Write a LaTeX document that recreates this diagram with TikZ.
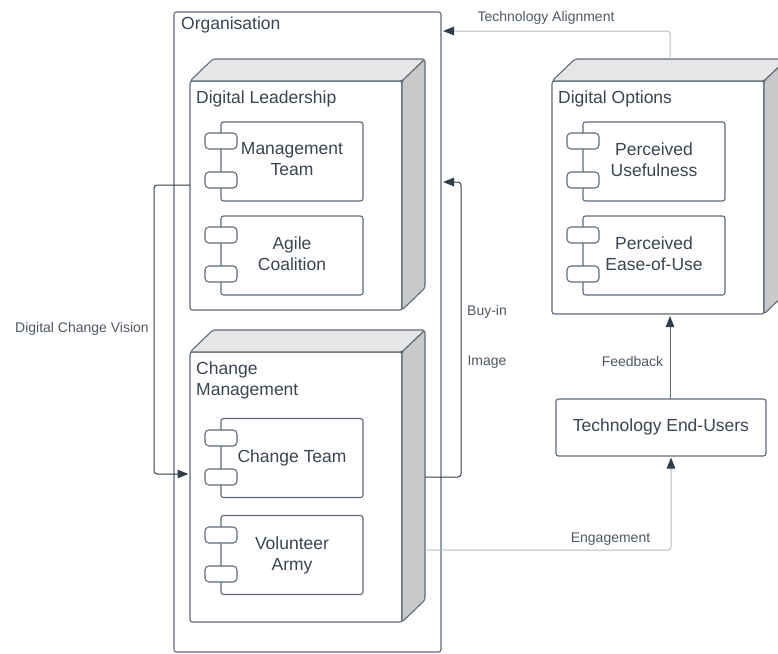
\documentclass[tikz,border=0pt]{standalone}
\usepackage{fontspec}
\setmainfont{Liberation Sans}
\usetikzlibrary{arrows.meta,calc}
\definecolor{inkline}{HTML}{5E6B78}
\definecolor{inktext}{HTML}{3A4552}
\definecolor{inktip}{HTML}{2F3E4C}
\definecolor{paleline}{HTML}{B4BCC4}
\definecolor{cubetop}{HTML}{E6E6E6}
\definecolor{cubeside}{HTML}{C9C9C9}
\newcommand{\cubefaces}[1]{
\filldraw[edge, fill=cubetop] (#1.north west)--++(23,-22)--($(#1.north east)+(23,-22)$)--(#1.north east)--cycle;
\filldraw[edge, fill=cubeside] (#1.north east)--++(23,-22)--($(#1.south east)+(23,-22)$)--(#1.south east)--cycle;
}
\tikzset{
edge/.style={draw=inkline, line width=1.1pt, rounded corners=2.5pt},
box/.style={edge, fill=white, inner sep=0pt, outer sep=0pt, text=inktext, align=center, font=\fontsize{17.5}{21}\selectfont},
tab/.style={box, minimum width=32pt, minimum height=16pt, rounded corners=4pt},
comp/.style={box, minimum width=142pt, minimum height=79pt},
cube/.style={box, minimum width=212pt},
compname/.style={text=inktext, inner sep=0pt, align=center, font=\fontsize{17.5}{21}\selectfont},
head/.style={compname, anchor=north west, align=left},
flowlabel/.style={text=inktext!90!white, inner sep=0pt, font=\fontsize{14}{16}\selectfont},
link/.style={draw=inktip, line width=1pt, rounded corners=3pt, -{Triangle[length=11pt,width=8.5pt,color=inktip]}},
palelink/.style={link, draw=paleline},
}
\begin{document}
\begin{tikzpicture}[x=1pt, y=-1pt]
\path[use as bounding box, clip] (0,0) rectangle (778,653);

\node (org) [box, minimum width=267pt, minimum height=640pt] at (307.5,332) {};
\node (orglabel) [head] at (181,17) {Organisation};

\node (lead) [cube, minimum height=229pt] at (296,195.5) {};
\node (change) [cube, minimum height=270pt] at (296,487) {};
\node (options) [cube, minimum height=233pt] at (658,197.5) {};
\node (users) [box, minimum width=210pt, minimum height=57pt] at (661,427.5) {};
\node (usersname) [compname] at (661,426.5) {Technology End-Users};

\cubefaces{lead}
\cubefaces{change}
\cubefaces{options}

\node (leadlabel) [head] at (196,91) {Digital Leadership};
\node (changelabel) [head] at (196,362) {Change\\Management};
\node (optionslabel) [head] at (558,91) {Digital Options};

\node (mgmt) [comp] at (292,161.5) {};
\node (mgmtname) [compname] at (292,159.5) {Management\\Team};
\node (mgmttop) [tab] at (221,141) {};
\node (mgmtbot) [tab] at (221,180) {};

\node (agile) [comp] at (292,255.5) {};
\node (agilename) [compname] at (292,253.5) {Agile\\Coalition};
\node (agiletop) [tab] at (221,235) {};
\node (agilebot) [tab] at (221,274) {};

\node (team) [comp] at (292,458) {};
\node (teamname) [compname] at (292,458) {Change Team};
\node (teamtop) [tab] at (221,438) {};
\node (teambot) [tab] at (221,477) {};

\node (army) [comp] at (292,555) {};
\node (armyname) [compname] at (292,555) {Volunteer\\Army};
\node (armytop) [tab] at (221,535) {};
\node (armybot) [tab] at (221,574) {};

\node (useful) [comp] at (654,161.5) {};
\node (usefulname) [compname] at (654,159.5) {Perceived\\Usefulness};
\node (usefultop) [tab] at (583,141) {};
\node (usefulbot) [tab] at (583,180) {};

\node (ease) [comp] at (654,255.5) {};
\node (easename) [compname] at (654,253.5) {Perceived\\Ease-of-Use};
\node (easetop) [tab] at (583,235) {};
\node (easebot) [tab] at (583,274) {};

\draw[link] ([yshift=10.5pt]lead.west)--++(-36,0)|-([xshift=-1.5pt,yshift=13pt]change.west);
\draw[link] ([xshift=23pt,yshift=10pt]change.east)--++(36,0)|-([xshift=2pt,yshift=150pt]org.east);
\draw[palelink] ([xshift=12pt,yshift=22pt]options.north)|-([xshift=2pt,yshift=301pt]org.east);
\draw[link, draw=inkline] ([xshift=9pt]users.north)--([xshift=12pt,yshift=-2pt]options.south);
\draw[palelink] ([xshift=23pt,yshift=-63pt]change.east)-|([xshift=10pt,yshift=-1.5pt]users.south);

\node (visionlabel) [flowlabel] at (82,329) {Digital Change Vision};
\node (buyinlabel) [flowlabel] at (487,312) {Buy-in};
\node (imagelabel) [flowlabel] at (487,362) {Image};
\node (alignlabel) [flowlabel] at (546,18) {Technology Alignment};
\node (feedbacklabel) [flowlabel] at (632.5,361) {Feedback};
\node (engagelabel) [flowlabel] at (610.5,539) {Engagement};
\end{tikzpicture}
\end{document}
